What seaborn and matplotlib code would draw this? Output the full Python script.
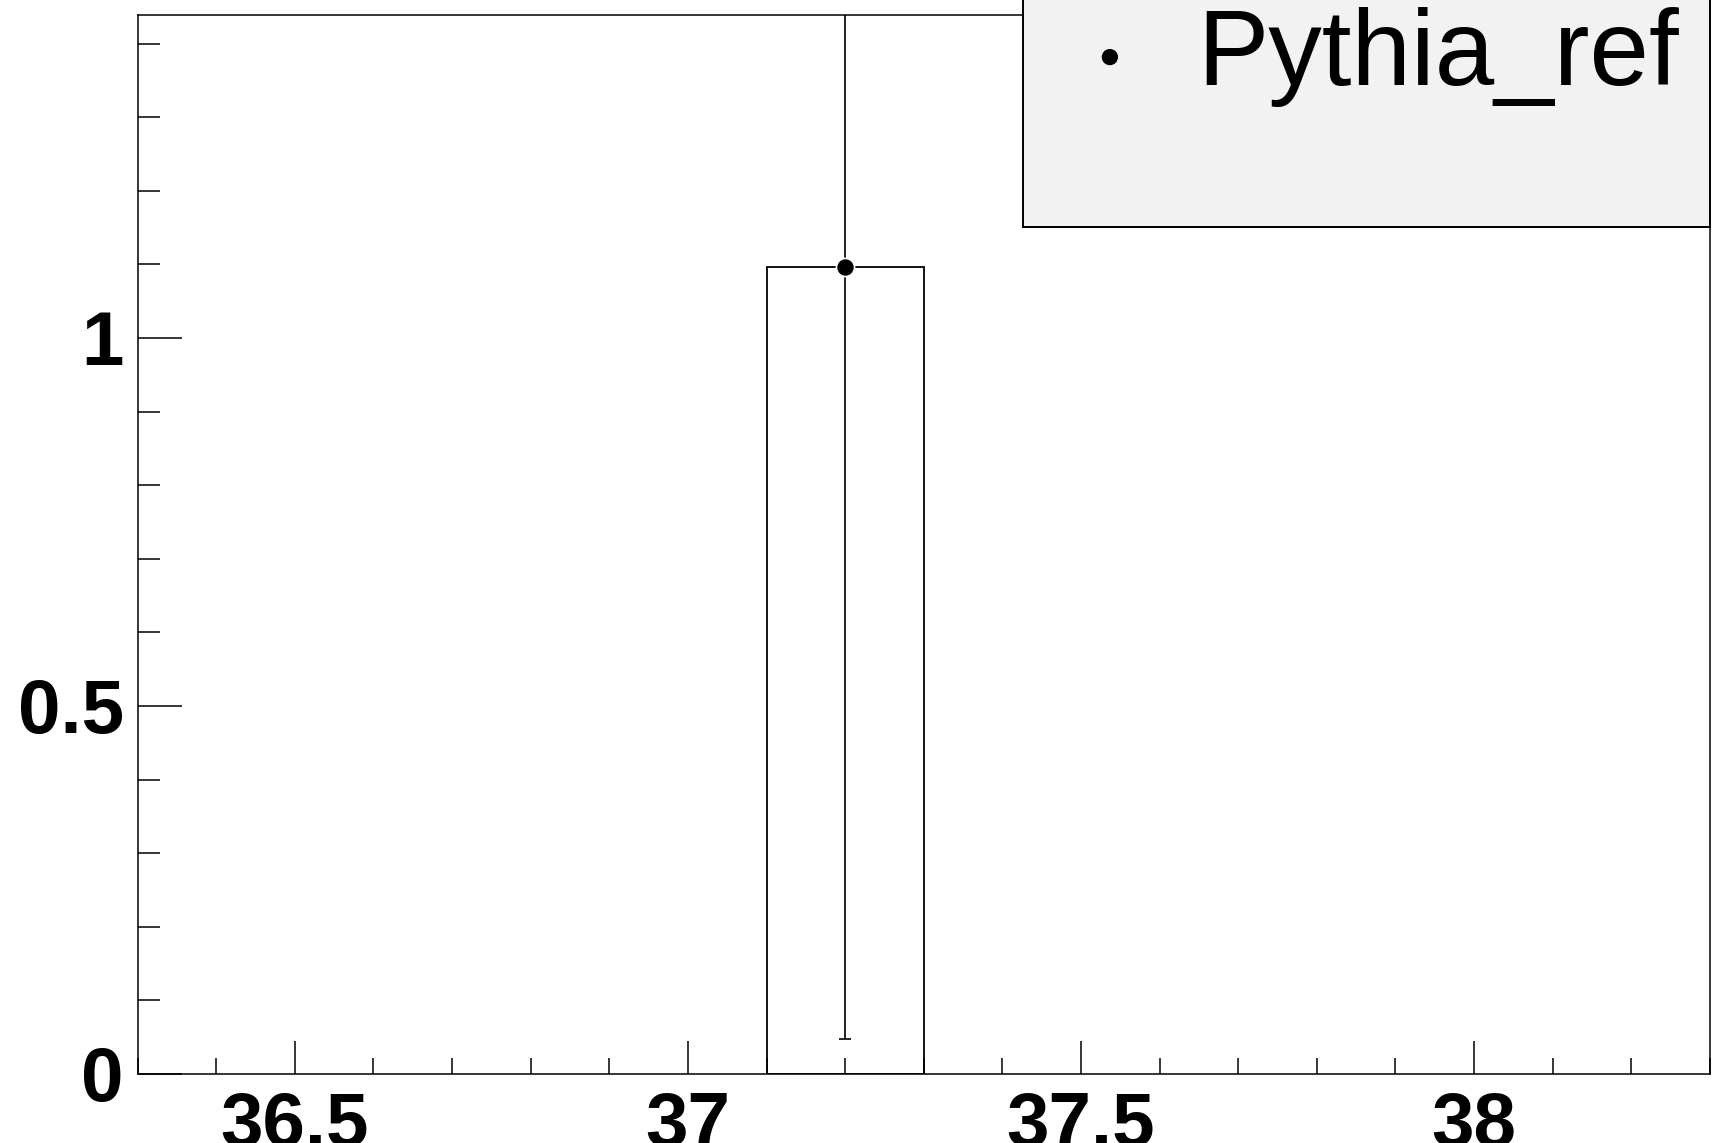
import matplotlib

matplotlib.use("Agg")
import matplotlib.pyplot as plt
import numpy as np
import seaborn as sns
from matplotlib.patches import Rectangle
from matplotlib.ticker import FuncFormatter, MultipleLocator

# histogram content (one filled bin)
bin_edges = [37.1, 37.3]
bin_centers = [37.2]
bin_counts = [1.0966]
bin_errors = [1.049]
series_name = "Pythia_ref"

x_range = (36.3, 38.3)
y_range = (0.0, 1.4383)

sns.set_theme(style="ticks")
plt.rcParams["font.family"] = ["Liberation Sans", "DejaVu Sans"]
plt.rcParams["text.color"] = "black"
plt.rcParams["xtick.labelcolor"] = "black"
plt.rcParams["ytick.labelcolor"] = "black"

fig = plt.figure(figsize=(17.12, 11.43), dpi=100)
ax = fig.add_axes([0.0804, 0.0604, 0.9184, 0.9262])

# outlined histogram bar
sns.histplot(
    x=bin_centers,
    weights=bin_counts,
    bins=bin_edges,
    element="bars",
    fill=False,
    color="black",
    linewidth=1.3,
    ax=ax,
)

# error bar and marker
ax.errorbar(
    bin_centers,
    bin_counts,
    yerr=bin_errors,
    fmt="none",
    ecolor="black",
    elinewidth=1.2,
    capsize=4.2,
    capthick=1.2,
    zorder=3,
)
sns.scatterplot(
    x=bin_centers,
    y=bin_counts,
    color="black",
    s=170,
    edgecolor="white",
    linewidth=1.2,
    label=series_name,
    zorder=4,
    ax=ax,
)

ax.set_xlim(*x_range)
ax.set_ylim(*y_range)
ax.set_xlabel("")
ax.set_ylabel("")

ax.xaxis.set_major_locator(MultipleLocator(0.5))
ax.xaxis.set_minor_locator(MultipleLocator(0.1))
ax.yaxis.set_major_locator(MultipleLocator(0.5))
ax.yaxis.set_minor_locator(MultipleLocator(0.1))
ax.xaxis.set_major_formatter(FuncFormatter(lambda v, p: f"{v:g}"))
ax.yaxis.set_major_formatter(FuncFormatter(lambda v, p: f"{v:g}"))

ax.tick_params(axis="both", which="both", direction="in", color="black",
               width=1.1, labelcolor="black")
ax.tick_params(axis="x", which="major", length=23.5, pad=12, labelsize=55)
ax.tick_params(axis="x", which="minor", length=11.5)
ax.tick_params(axis="y", which="major", length=32, pad=10, labelsize=55)
ax.tick_params(axis="y", which="minor", length=16)
for lab in ax.get_xticklabels() + ax.get_yticklabels():
    lab.set_fontweight("bold")

for side in ["left", "right", "top", "bottom"]:
    ax.spines[side].set_visible(True)
    ax.spines[side].set_color("black")
    ax.spines[side].set_linewidth(1.1)

# legend box (runs off the top of the canvas like the original)
box = Rectangle(
    (0.5973, 0.8014), 0.4015, 0.25,
    transform=fig.transFigure, facecolor="#f2f2f2",
    edgecolor="black", linewidth=1.4, zorder=5, clip_on=False,
)
ax.add_patch(box)
leg = ax.legend(
    loc="center left",
    bbox_to_anchor=(0.6233, 0.9500),
    bbox_transform=fig.transFigure,
    frameon=False,
    fontsize=77,
    handlelength=0.8,
    handletextpad=0.42,
    borderpad=0,
    borderaxespad=0,
    markerscale=0.9,
)
leg.set_zorder(6)
for h in leg.legend_handles:
    h.set_edgecolor("none")
for t in leg.get_texts():
    t.set_color("black")

fig.savefig("out.png", dpi=100)
